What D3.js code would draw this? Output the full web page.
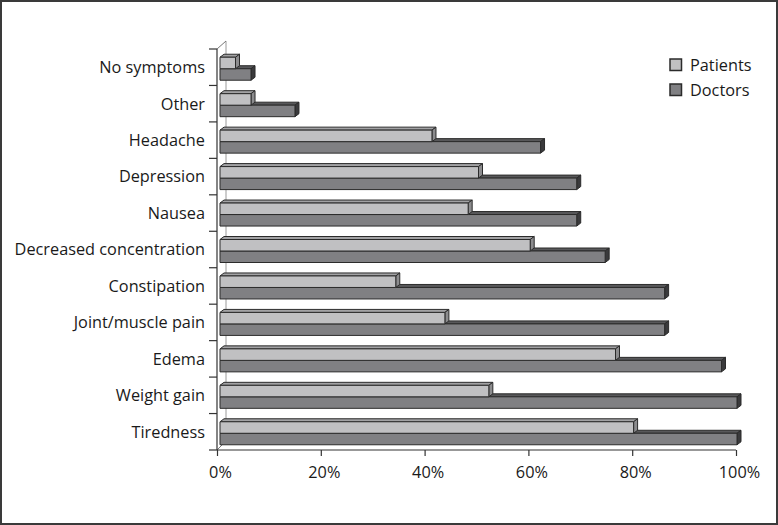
<!DOCTYPE html>
<html>
<head>
<meta charset="utf-8">
<script src="https://cdnjs.cloudflare.com/ajax/libs/d3/7.8.5/d3.min.js"></script>
<style>
  html, body { margin: 0; padding: 0; background: #fff; }
  svg { display: block; }
  text { font-family: "Open Sans", "Noto Sans", sans-serif; fill: #1a1a1a; }
</style>
</head>
<body>
<svg id="chart" width="778" height="525"></svg>
<script>
const categories = ["No symptoms", "Other", "Headache", "Depression", "Nausea",
  "Decreased concentration", "Constipation", "Joint/muscle pain", "Edema",
  "Weight gain", "Tiredness"];
const patients = [3, 6, 41, 50, 48, 60, 34, 43.5, 76.5, 52, 80];
const doctors  = [6, 14.5, 62, 69, 69, 74.5, 86, 86, 97, 100, 100];
const seriesNames = ["Patients", "Doctors"];
const tickValues = [0, 20, 40, 60, 80, 100];
const tickLabels = ["0%", "20%", "40%", "60%", "80%", "100%"];

const svg = d3.select("#chart");
const W = 778, H = 525;
const FS = 16.3;

// frame
svg.append("rect").attr("x", 1).attr("y", 1).attr("width", W - 2).attr("height", H - 2)
  .attr("fill", "#fff").attr("stroke", "#3a3a3a").attr("stroke-width", 2);

const axisX = d3.scaleLinear().domain([0, 100]).range([217, 736]);
const barX = d3.scaleLinear().domain([0, 100]).range([220, 737]);
const y = d3.scaleBand().domain(categories).range([49, 450]).paddingInner(0).paddingOuter(0);

const dx = 4, dy = 3;   // 3D depth offset
const bh = 11.5;        // bar height

// walls / axis lines
const g = svg.append("g");
g.append("line").attr("x1", 226).attr("y1", 41).attr("x2", 226).attr("y2", 441)
  .attr("stroke", "#9a9a9a").attr("stroke-width", 1);
g.append("line").attr("x1", 217).attr("y1", 49).attr("x2", 226).attr("y2", 41)
  .attr("stroke", "#777").attr("stroke-width", 1);
g.append("line").attr("x1", 217).attr("y1", 450).attr("x2", 226).attr("y2", 441)
  .attr("stroke", "#777").attr("stroke-width", 1);

// left axis (front)
const yAxis = d3.axisLeft(y).tickSize(0).tickFormat("");
const yAxisG = svg.append("g").attr("transform", "translate(217,0)").call(yAxis);
yAxisG.select(".domain").attr("stroke", "#333").attr("stroke-width", 1.2).attr("d", "M0,49V450");
const boundaries = categories.map(c => y(c)).concat([y(categories[categories.length - 1]) + y.bandwidth()]);
yAxisG.selectAll(".bnd").data(boundaries).join("line").attr("class", "bnd")
  .attr("x1", -8).attr("x2", 0).attr("y1", d => d).attr("y2", d => d)
  .attr("stroke", "#333").attr("stroke-width", 1.2);

// category labels
svg.append("g").selectAll("text").data(categories).join("text")
  .attr("x", 205).attr("y", d => y(d) + y.bandwidth() / 2)
  .attr("dy", "0.36em").attr("text-anchor", "end").attr("font-size", FS)
  .text(d => d);

// bottom axis
const xAxis = d3.axisBottom(axisX).tickValues(tickValues).tickSize(6)
  .tickFormat((d, i) => tickLabels[i]);
const xAxisG = svg.append("g").attr("transform", "translate(0,450)").call(xAxis);
xAxisG.select(".domain").attr("stroke", "#333").attr("stroke-width", 1.2).attr("d", "M217,0H736");
xAxisG.selectAll(".tick line").attr("stroke", "#333").attr("stroke-width", 1.2);
xAxisG.selectAll(".tick text").attr("font-size", FS).attr("dy", 0).attr("y", 28)
  .attr("x", 3).attr("fill", "#1a1a1a")
  .attr("font-family", "'Open Sans', 'Noto Sans', sans-serif");

// bars
const styles = [
  { front: "#c0c0c2", top: "#a2a2a4", side: "#8c8c8e" },
  { front: "#808083", top: "#58585a", side: "#3a3a3c" }
];
const barsG = svg.append("g");
function drawBar(x0, x1, y0, y1, st) {
  const gg = barsG.append("g").attr("stroke", "#2b2b2b").attr("stroke-width", 1)
    .attr("stroke-linejoin", "round");
  gg.append("path").attr("fill", st.top)
    .attr("d", `M${x0},${y0}L${x0 + dx},${y0 - dy}L${x1 + dx},${y0 - dy}L${x1},${y0}Z`);
  gg.append("path").attr("fill", st.side)
    .attr("d", `M${x1},${y0}L${x1 + dx},${y0 - dy}L${x1 + dx},${y1 - dy}L${x1},${y1}Z`);
  gg.append("rect").attr("x", x0).attr("y", y0).attr("width", x1 - x0).attr("height", y1 - y0)
    .attr("fill", st.front);
}
categories.forEach((c, i) => {
  const cy = y(c) + y.bandwidth() / 2 + 1.5;
  drawBar(barX(0), barX(doctors[i]), cy, cy + bh, styles[1]);
  drawBar(barX(0), barX(patients[i]), cy - bh, cy, styles[0]);
});

// legend
const leg = svg.append("g");
seriesNames.forEach((s, i) => {
  const ly = 59 + i * 25;
  leg.append("rect").attr("x", 670).attr("y", ly).attr("width", 11.5).attr("height", 11.5)
    .attr("fill", styles[i].front).attr("stroke", "#2b2b2b").attr("stroke-width", 1.5);
  leg.append("text").attr("x", 690).attr("y", ly + 11.5).attr("font-size", FS).text(s);
});
</script>
</body>
</html>
